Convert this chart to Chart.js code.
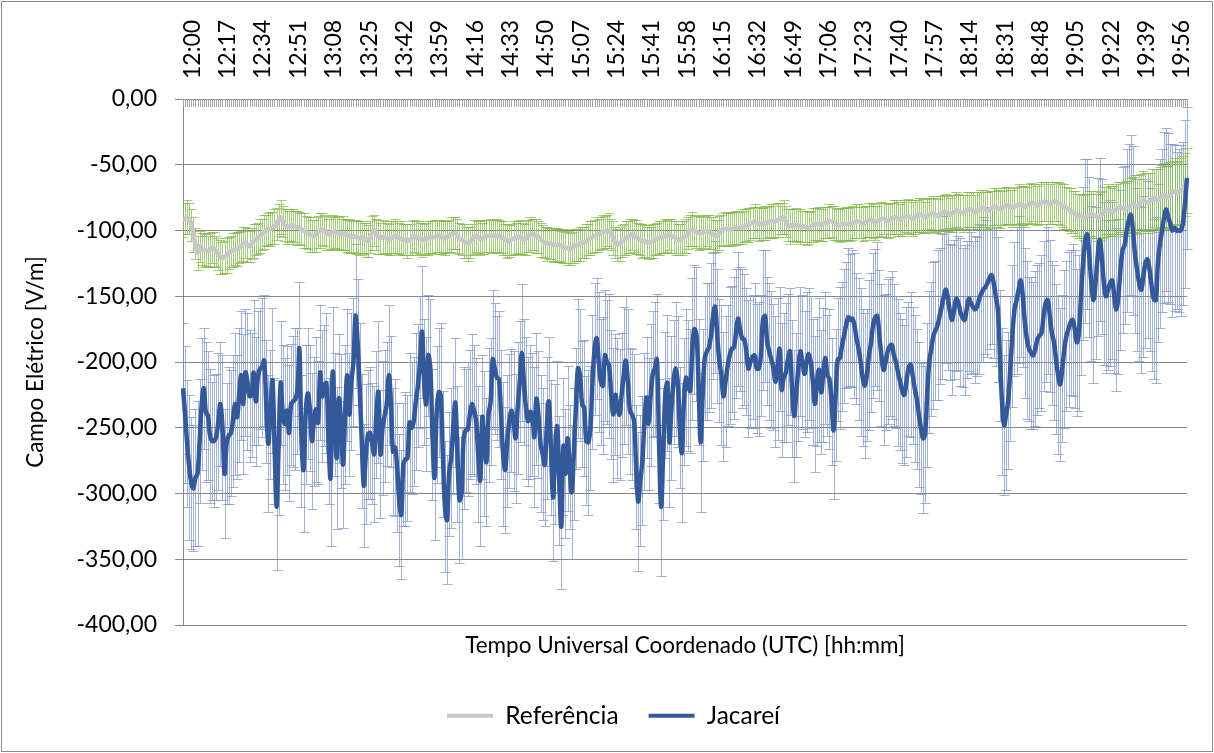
<!DOCTYPE html>
<html><head><meta charset="utf-8">
<script src="https://cdn.jsdelivr.net/npm/chart.js@4.4.1/dist/chart.umd.min.js"></script>
<style>html,body{margin:0;padding:0;background:#fff;}canvas{display:block;}</style>
</head><body><canvas id="c" width="1214" height="753"></canvas>
<script>
// categories: one per minute, 12:00 .. 20:03
const startTime = [12, 0];
const pointCount = 484;
const categories = [];
for (let i = 0; i < pointCount; i++) {
  const t = startTime[0] * 60 + startTime[1] + i;
  categories.push(String(Math.floor(t / 60)).padStart(2, '0') + ':' + String(t % 60).padStart(2, '0'));
}
const labelEvery = 17;
const yTickValues = [0, -50, -100, -150, -200, -250, -300, -350, -400];

const referencia = [
-92,-91,-90,-91,-96,-103,-110,-117,-112,-114,
-115,-115,-116,-115,-113,-114,-116,-118,-120,-121,
-120,-119,-117,-116,-115,-114,-114,-113,-112,-110,
-109,-111,-112,-110,-108,-107,-106,-104,-103,-101,
-100,-99,-99,-98,-97,-95,-92,-90,-93,-96,
-97,-97,-96,-97,-97,-98,-98,-99,-100,-101,
-102,-103,-104,-104,-103,-101,-100,-99,-100,-102,
-103,-102,-101,-101,-102,-102,-103,-102,-103,-104,
-104,-105,-104,-105,-105,-106,-105,-106,-107,-108,
-105,-102,-100,-103,-105,-106,-105,-105,-106,-107,-106,
-105,-104,-105,-106,-106,-107,-107,-108,-107,-106,
-104,-105,-106,-106,-107,-107,-106,-106,-105,-105,
-105,-104,-104,-105,-105,-106,-105,-104,-103,-102,
-102,-104,-106,-107,-108,-109,-110,-109,-107,-105,
-104,-105,-106,-106,-105,-104,-104,-104,-104,-104,
-104,-104,-105,-106,-107,-108,-108,-107,-106,-106,
-105,-105,-106,-107,-106,-104,-103,-103,-103,-104,
-105,-107,-108,-109,-110,-110,-110,-111,-111,-111,
-111,-112,-112,-113,-113,-114,-113,-112,-111,-111,
-110,-109,-109,-108,-107,-106,-105,-104,-103,-103,
-102,-101,-101,-100,-100,-103,-106,-109,-111,-110,
-108,-107,-106,-105,-104,-103,-104,-105,-106,-107,
-108,-108,-109,-109,-109,-108,-107,-106,-106,-105,
-105,-104,-104,-103,-104,-105,-106,-107,-107,-106,
-105,-104,-102,-100,-99,-100,-101,-102,-102,-101,
-101,-100,-101,-102,-103,-104,-104,-102,-100,-99,
-99,-99,-99,-99,-98,-98,-98,-98,-97,-97,
-96,-96,-95,-94,-93,-94,-95,-95,-95,-94,
-94,-93,-93,-93,-93,-92,-91,-91,-90,-93,-96,
-97,-96,-96,-96,-96,-97,-97,-97,-98,-98,
-97,-96,-95,-95,-95,-96,-95,-94,-94,-93,
-93,-94,-95,-96,-96,-95,-95,-95,-95,-95,
-94,-94,-93,-93,-94,-95,-94,-93,-92,-92,
-93,-94,-93,-92,-91,-91,-92,-93,-92,-91,
-90,-90,-91,-92,-91,-90,-89,-89,-90,-91,
-90,-89,-88,-88,-89,-90,-89,-88,-87,-87,
-88,-89,-88,-87,-86,-86,-87,-88,-87,-86,
-85,-85,-86,-87,-86,-85,-84,-84,-85,-86,
-85,-84,-83,-83,-84,-85,-84,-83,-82,-82,
-83,-84,-83,-82,-81,-81,-82,-83,-82,-81,
-80,-80,-81,-82,-81,-80,-79,-79,-80,-81,
-80,-79,-78,-78,-79,-80,-79,-78,-78,-79,
-80,-81,-82,-83,-84,-85,-86,-87,-88,-89,
-89,-90,-90,-89,-88,-87,-88,-89,-90,-89,
-88,-86,-85,-84,-85,-86,-85,-84,-83,-82,
-83,-84,-83,-82,-81,-80,-81,-82,-80,-78,
-77,-78,-79,-78,-76,-75,-76,-77,-75,-74,
-73,-74,-75,-73,-71,-70,-72,-71,-70,-68,-65,-62
];

const referenciaErr = [
13,12,13,12,12,13,12,13,12,12,
13,12,12,13,12,13,12,12,13,12,
12,13,12,12,13,12,13,12,12,13,
12,13,12,12,13,12,12,13,12,13,
12,12,13,12,13,12,12,13,12,12,
13,12,12,13,12,13,12,12,13,12,
12,13,12,12,13,12,13,12,12,13,
12,12,13,12,13,12,12,13,12,12,
13,12,12,13,12,13,12,12,13,12,
12,13,12,12,13,12,13,12,12,12,13,
12,13,12,12,13,12,12,13,12,13,
12,12,13,12,13,12,12,13,12,12,
13,12,12,13,12,13,12,12,13,12,
12,13,12,12,13,12,13,12,12,13,
12,12,13,12,13,12,12,13,12,12,
13,12,12,13,12,13,12,12,13,12,
12,13,12,12,13,12,13,12,12,13,
12,13,12,12,13,12,12,13,12,13,
12,12,13,12,13,12,12,13,12,12,
13,12,12,13,12,13,12,12,13,12,
12,13,12,12,13,12,13,12,12,13,
12,12,13,12,13,12,12,13,12,12,
13,12,12,13,12,13,12,12,13,12,
12,13,12,12,13,12,13,12,12,13,
12,13,12,12,13,12,12,13,12,13,
12,12,13,12,13,12,12,13,12,12,
13,12,12,13,12,13,12,12,13,12,
12,13,12,12,13,12,13,12,12,13,
12,12,13,13,12,13,12,12,13,12,12,
13,12,12,13,12,13,12,12,13,12,
12,13,12,12,13,12,13,12,12,13,
12,13,12,12,13,12,12,13,12,13,
13,12,13,13,12,13,13,12,13,13,
13,13,12,13,13,12,13,13,13,12,
13,13,13,12,13,13,12,13,13,13,
13,12,13,13,13,12,13,13,12,13,
13,13,14,13,13,14,13,13,14,13,
14,13,13,14,13,14,13,13,14,13,
14,13,14,14,13,14,14,13,14,14,
14,14,13,14,14,14,13,14,14,14,
15,14,15,15,14,15,15,14,15,15,
15,16,15,15,16,15,16,15,15,16,
16,16,17,16,16,17,16,17,16,17,
17,17,18,17,18,17,18,17,18,18,
18,19,18,19,19,18,19,19,20,19,
20,20,21,20,21,21,20,21,22,21,
22,22,23,22,23,22,23,24,23,24,
24,23,24,25,24,25,24,24,25,25,24,25
];

const jacarei = [
-220,-240,-262,-280,-292,-296,-288,-285,-260,-232,
-220,-238,-241,-256,-260,-260,-257,-245,-232,-250,
-285,-262,-256,-254,-245,-232,-242,-225,-210,-232,
-208,-215,-226,-225,-208,-230,-212,-205,-204,-199,
-230,-262,-240,-214,-260,-310,-265,-216,-240,-247,
-237,-254,-232,-230,-228,-222,-190,-260,-282,-240,
-224,-235,-260,-245,-236,-246,-208,-226,-218,-216,
-260,-288,-208,-240,-273,-228,-245,-278,-240,-210,
-240,-215,-200,-165,-185,-220,-260,-294,-270,-255,
-254,-262,-270,-240,-223,-270,-250,-241,-232,-210,-230,
-268,-265,-280,-305,-316,-278,-274,-273,-246,-250,
-245,-230,-218,-200,-177,-215,-232,-195,-205,-255,
-288,-240,-223,-225,-270,-310,-320,-285,-273,-250,
-231,-270,-305,-300,-258,-252,-251,-240,-232,-237,
-245,-270,-290,-242,-262,-276,-240,-230,-198,-205,
-212,-213,-240,-270,-282,-260,-245,-237,-245,-258,
-235,-215,-193,-215,-235,-245,-238,-240,-257,-228,
-240,-262,-270,-278,-250,-230,-265,-303,-270,-249,
-290,-325,-264,-285,-258,-280,-299,-270,-235,-205,
-210,-232,-235,-260,-261,-250,-215,-190,-182,-200,
-215,-218,-195,-200,-203,-225,-240,-225,-235,-240,
-225,-210,-199,-215,-237,-240,-245,-280,-306,-290,
-275,-245,-227,-247,-225,-209,-205,-198,-260,-310,
-270,-225,-216,-261,-235,-215,-205,-215,-250,-269,
-230,-212,-218,-222,-190,-175,-179,-215,-261,-225,
-197,-192,-189,-180,-165,-158,-180,-199,-210,-226,
-215,-203,-195,-190,-189,-178,-167,-175,-182,-183,
-192,-205,-200,-196,-195,-205,-205,-195,-168,-165,
-184,-192,-198,-204,-215,-205,-190,-221,-212,-208,-198,
-192,-220,-241,-225,-205,-192,-200,-209,-200,-194,
-200,-215,-232,-215,-206,-223,-210,-197,-210,-213,
-230,-252,-225,-198,-197,-188,-180,-172,-166,-168,
-167,-172,-182,-190,-200,-212,-218,-210,-195,-185,
-172,-166,-165,-180,-195,-206,-200,-192,-188,-187,
-195,-200,-208,-215,-222,-225,-215,-205,-202,-210,
-220,-228,-240,-250,-258,-255,-225,-200,-190,-180,
-176,-172,-165,-158,-150,-145,-152,-162,-168,-160,
-152,-155,-162,-166,-168,-160,-152,-155,-158,-160,
-158,-152,-148,-145,-143,-140,-136,-134,-140,-150,
-160,-195,-230,-248,-240,-229,-205,-180,-160,-153,
-145,-138,-150,-170,-183,-190,-193,-195,-190,-183,
-180,-178,-165,-155,-153,-165,-178,-185,-198,-210,
-217,-205,-190,-180,-175,-170,-168,-175,-185,-178,
-150,-125,-108,-103,-120,-140,-153,-140,-120,-107,
-120,-140,-150,-145,-140,-138,-150,-160,-150,-130,
-115,-111,-100,-92,-88,-100,-118,-130,-140,-145,
-135,-125,-122,-130,-142,-152,-153,-125,-110,-100,
-90,-84,-90,-95,-100,-98,-100,-100,-100,-95,-80,-60
];

const jacareiErr = [
50,52,48,55,50,48,52,55,47,50,
46,53,49,51,45,50,48,52,47,55,
49,46,52,48,50,54,47,51,49,53,
48,52,50,47,55,49,51,46,53,50,
47,52,49,55,48,48,51,47,53,50,
49,52,46,50,54,48,51,50,47,53,
50,48,52,49,55,47,51,50,46,53,
48,52,50,47,54,49,51,48,53,50,
47,52,49,55,48,50,51,47,53,49,
50,46,52,48,54,49,51,50,47,53,50,
48,52,49,50,49,47,51,48,53,50,
49,52,47,50,50,48,51,46,53,50,
47,52,49,55,48,50,49,47,53,50,
49,52,48,50,54,47,51,49,53,50,
48,52,50,47,55,49,51,48,53,50,
47,52,49,55,48,50,51,47,53,49,
50,46,52,48,54,49,51,47,53,50,
48,52,50,47,54,49,51,48,53,50,
49,48,52,49,55,47,51,50,46,53,
50,48,52,49,55,47,51,50,46,53,
48,52,50,47,55,49,51,46,53,50,
47,52,49,55,48,50,51,47,53,50,
49,52,46,50,54,48,51,50,47,53,
50,48,52,49,55,47,51,50,46,53,
48,52,50,47,54,49,51,48,53,50,
47,52,49,55,48,50,51,47,53,49,
50,46,52,48,54,49,51,47,53,50,
48,52,50,47,55,49,51,46,53,50,
49,52,52,48,50,54,47,51,49,53,50,
48,52,50,47,55,49,51,48,53,50,
50,48,52,49,55,47,51,50,46,53,
48,52,50,47,54,49,51,48,53,50,
52,55,50,54,56,52,55,50,57,53,
55,52,56,50,54,57,52,55,53,56,
54,50,56,52,55,53,57,51,55,52,
56,53,55,50,57,52,55,54,51,56,
53,57,52,55,50,56,54,52,57,53,
55,51,56,53,57,52,55,54,50,56,
53,57,52,55,51,56,54,52,57,53,
55,50,56,53,57,52,55,54,51,56,
56,58,54,57,60,55,58,56,59,57,
55,59,57,60,56,58,55,59,57,60,
58,56,60,57,59,55,58,60,56,59,
60,58,62,57,61,59,63,58,60,62,
59,62,58,61,63,60,58,62,59,61,
63,60,62,58,61,64,60,62,59,63,
61,64,60,62,65,61,63,60,64,62,
65,62,64,61,66,63,60,62,65,62,64,54
];

const FONT = 'Lato';
const errorBarsPlugin = {
  id: 'errorBars',
  beforeDraw(chart) {
    const ctx = chart.ctx;
    ctx.save();
    ctx.strokeStyle = '#8c8c8c';
    ctx.lineWidth = 1;
    ctx.strokeRect(1.5, 1.5, chart.width - 3, chart.height - 3);
    ctx.restore();
  },
  beforeDatasetsDraw(chart) {
    const { ctx, chartArea } = chart;
    const x = chart.scales.x, y = chart.scales.y;
    ctx.save();
    ctx.beginPath();
    ctx.rect(chartArea.left, chartArea.top, chartArea.right - chartArea.left + 6, chartArea.bottom - chartArea.top);
    ctx.clip();
    const draw = (vals, errs, color) => {
      ctx.strokeStyle = color;
      ctx.lineWidth = 1;
      ctx.beginPath();
      for (let i = 0; i < vals.length; i++) {
        const px = Math.round(x.getPixelForValue(i)) + 0.5;
        const yt = Math.round(y.getPixelForValue(vals[i] + errs[i])) + 0.5;
        const yb = Math.round(y.getPixelForValue(vals[i] - errs[i])) + 0.5;
        ctx.moveTo(px, yt); ctx.lineTo(px, yb);
        ctx.moveTo(px - 5, yt); ctx.lineTo(px + 5, yt);
        ctx.moveTo(px - 5, yb); ctx.lineTo(px + 5, yb);
      }
      ctx.stroke();
    };
    draw(jacarei, jacareiErr, 'rgba(125,148,196,0.72)');
    draw(referencia, referenciaErr, 'rgba(130,186,75,0.72)');
    // category tick marks hanging inside the plot from the top axis
    ctx.strokeStyle = '#a6a6a6';
    ctx.beginPath();
    for (let i = 0; i < categories.length; i++) {
      const px = Math.round(x.getPixelForValue(i)) + 0.5;
      ctx.moveTo(px, chartArea.top); ctx.lineTo(px, chartArea.top + 8);
    }
    ctx.stroke();
    ctx.restore();
  }
};

new Chart(document.getElementById('c'), {
  type: 'line',
  data: {
    labels: categories,
    datasets: [
      { label: 'Referência', data: referencia, borderColor: '#c8c8c8', backgroundColor: '#c8c8c8', borderWidth: 4.5, pointRadius: 0, tension: 0.4, order: 1 },
      { label: 'Jacareí', data: jacarei, borderColor: '#34599b', backgroundColor: '#34599b', borderWidth: 4.5, pointRadius: 0, tension: 0.4, order: 0 }
    ]
  },
  options: {
    responsive: false,
    animation: false,
    layout: { padding: { left: 40, right: 27, top: 0, bottom: 15 } },
    plugins: {
      tooltip: { enabled: false },
      legend: {
        position: 'bottom',
        labels: {
          font: { family: FONT, size: 24.5 }, color: '#000', boxWidth: 46, boxHeight: 4, padding: 30,
          sort: (a, b) => a.datasetIndex - b.datasetIndex,
          generateLabels(chart) {
            return Chart.defaults.plugins.legend.labels.generateLabels(chart).map(l => ({ ...l, fillStyle: chart.data.datasets[l.datasetIndex].borderColor, strokeStyle: 'rgba(0,0,0,0)', lineWidth: 0 }));
          }
        }
      }
    },
    scales: {
      x: {
        type: 'category', position: 'top', offset: false,
        grid: { display: false, drawTicks: false },
        border: { display: true, color: '#868686' },
        ticks: { autoSkip: false, minRotation: 90, maxRotation: 90, padding: 20, labelOffset: 37, color: '#000', font: { family: FONT, size: 23 },
          callback: (v, i) => (i % labelEvery === 0 ? categories[i] : null) },
        afterFit(s) { s.height = 99; }
      },
      x2: {
        type: 'category', labels: categories, position: 'bottom',
        grid: { display: false, drawTicks: false }, border: { display: false },
        ticks: { display: false },
        title: { display: true, text: 'Tempo Universal Coordenado (UTC) [hh:mm]', color: '#000', font: { family: FONT, size: 22.5 }, padding: { top: 0, bottom: 14 } },
        afterFit(s) { s.height = 48.5; }
      },
      y: {
        min: -400, max: 0,
        afterBuildTicks(s) { s.ticks = yTickValues.map(v => ({ value: v })); },
        grid: { color: '#868686', tickLength: 8 },
        border: { color: '#868686' },
        ticks: { padding: 18, color: '#000', font: { family: FONT, size: 23 }, callback: v => Number(v).toFixed(2).replace('.', ',') },
        title: { display: true, text: 'Campo Elétrico [V/m]', color: '#000', font: { family: FONT, size: 22.5 }, padding: { top: -18, bottom: 0 } },
        afterFit(s) { s.width = 143; }
      }
    }
  },
  plugins: [errorBarsPlugin]
});
</script></body></html>
